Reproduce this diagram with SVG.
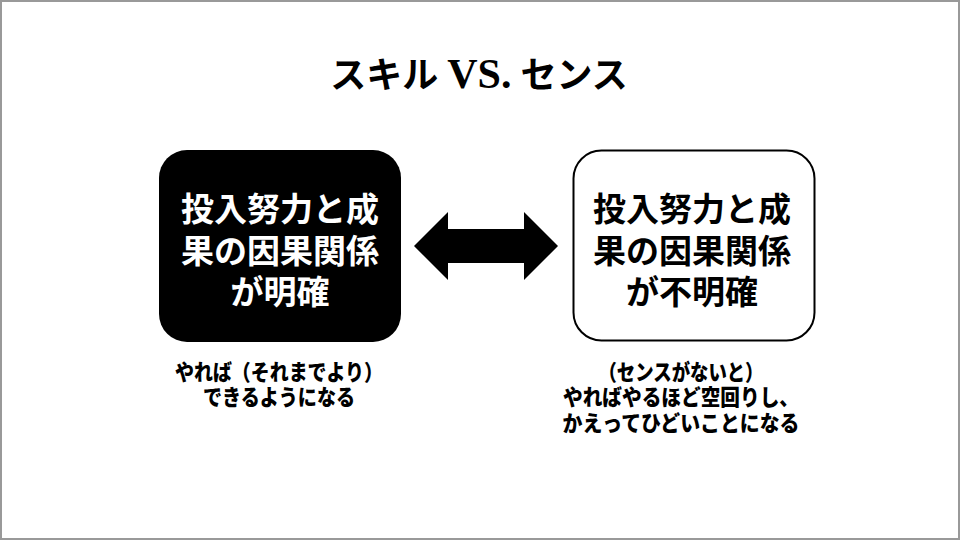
<svg xmlns="http://www.w3.org/2000/svg" width="960" height="540" viewBox="0 0 960 540">
<style>
.ttl{font-family:"Liberation Serif","Noto Sans CJK JP",serif;font-weight:bold;font-size:36px;fill:#000}
.vs{font-size:42px}
.box{font-family:"Noto Sans CJK JP",sans-serif;font-weight:bold;font-size:33px}
.note{font-family:"Noto Sans CJK JP",sans-serif;font-weight:900;font-size:22px;fill:#000}
</style>
<rect x="1" y="1" width="958" height="538" fill="#fff" stroke="#999" stroke-width="2"/>
<text class="ttl" x="479" y="88" text-anchor="middle">スキル <tspan class="vs">VS.</tspan> センス</text>
<g id="skill">
<rect x="159" y="150" width="242" height="192" rx="28" fill="#000"/>
<text class="box" fill="#fff" text-anchor="middle"><tspan x="280" y="221">投入努力と成</tspan><tspan x="280" y="263">果の因果関係</tspan><tspan x="280" y="304">が明確</tspan></text>
</g>
<g id="sense">
<rect x="573.5" y="150.5" width="241" height="190" rx="28" fill="#fff" stroke="#000" stroke-width="2"/>
<text class="box" fill="#000" text-anchor="middle"><tspan x="692" y="221">投入努力と成</tspan><tspan x="692" y="263">果の因果関係</tspan><tspan x="692" y="304">が不明確</tspan></text>
</g>
<g id="connectors">
<polygon points="414,246 448,212 448,229 524,229 524,212 558,246 524,280 524,263 448,263 448,280" fill="#000"/>
</g>
<g id="skill-note">
<text class="note" text-anchor="middle"><tspan x="279" y="380" textLength="208" lengthAdjust="spacingAndGlyphs">やれば（それまでより）</tspan><tspan x="279" y="405" textLength="152" lengthAdjust="spacingAndGlyphs">できるようになる</tspan></text>
</g>
<g id="sense-note">
<text class="note" text-anchor="middle"><tspan x="681" y="380" textLength="165" lengthAdjust="spacingAndGlyphs">（センスがないと）</tspan><tspan x="681" y="405" textLength="236" lengthAdjust="spacingAndGlyphs">やればやるほど空回りし、</tspan><tspan x="681" y="431" textLength="237" lengthAdjust="spacingAndGlyphs">かえってひどいことになる</tspan></text>
</g>
</svg>
